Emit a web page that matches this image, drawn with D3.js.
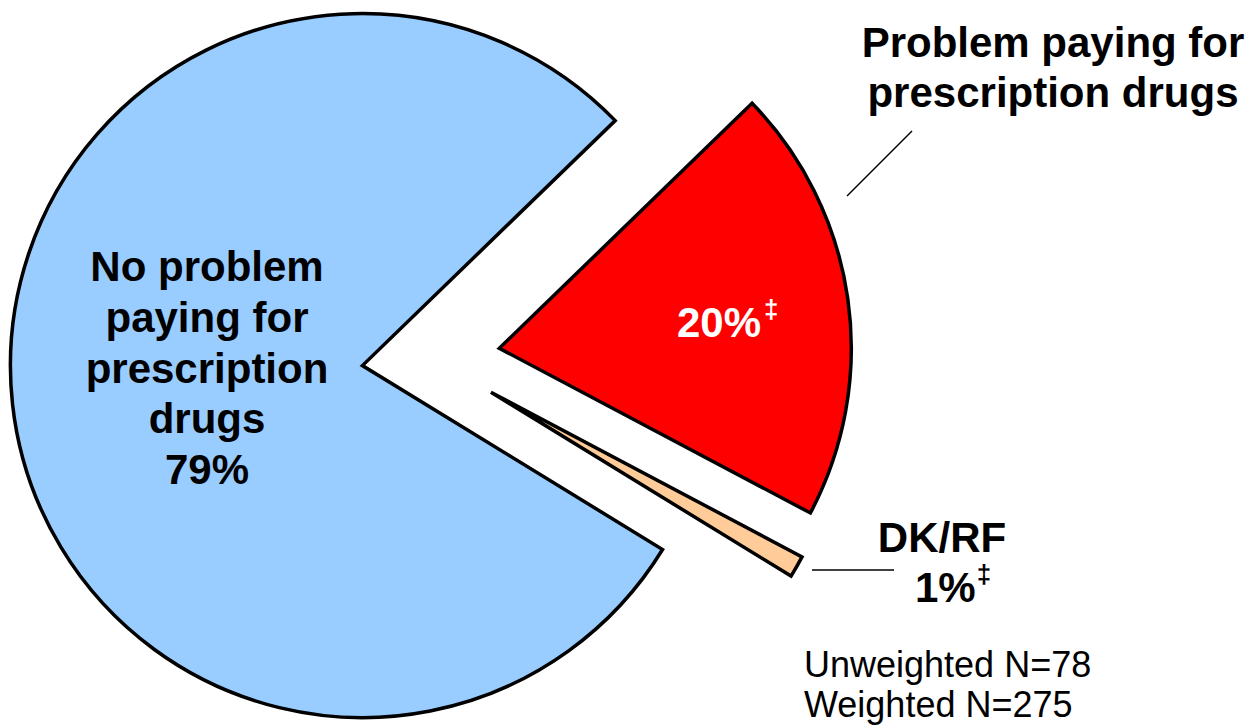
<!DOCTYPE html>
<html>
<head>
<meta charset="utf-8">
<script src="https://cdn.jsdelivr.net/npm/d3@7"></script>
<style>
  html, body { margin: 0; padding: 0; background: #fff; }
  svg { display: block; }
  text { font-family: "Liberation Sans", Arial, sans-serif; }
</style>
</head>
<body>
<svg id="chart" width="1253" height="726"></svg>
<script>
// ---- data ----
const categories = ["Problem paying for prescription drugs", "DK/RF", "No problem paying for prescription drugs"];
const values = [20, 1, 79];
const percentLabels = ["20%", "1%", "79%"];
const sampleNotes = ["Unweighted N=78", "Weighted N=275"];

// ---- styles ----
const sliceColors = ["#FF0000", "#FFCC99", "#99CCFF"];

const width = 1253, height = 726;
const cx = 431, cy = 358, radius = 352, explode = 69;
const startDeg = 45.9;

const svg = d3.select("#chart");

const pie = d3.pie()
  .sort(null)
  .value(d => d)
  .startAngle(startDeg * Math.PI / 180)
  .endAngle(startDeg * Math.PI / 180 + 2 * Math.PI);

const arcs = pie(values);
const arc = d3.arc().innerRadius(0).outerRadius(radius);

const g = svg.append("g").attr("transform", `translate(${cx},${cy})`);

g.selectAll("path.slice")
  .data(arcs)
  .join("path")
  .attr("class", "slice")
  .attr("d", arc)
  .attr("fill", (d, i) => sliceColors[i])
  .attr("stroke", "#000")
  .attr("stroke-width", 3.5)
  .attr("stroke-linejoin", "miter")
  .attr("transform", d => {
    const mid = (d.startAngle + d.endAngle) / 2;
    return `translate(${explode * Math.sin(mid)},${-explode * Math.cos(mid)})`;
  });

// ---- labels ----
const bold = "bold";

// No problem label (inside blue slice)
const blueLines = ["No problem", "paying for", "prescription", "drugs", percentLabels[2]];
svg.append("text")
  .attr("x", 207).attr("y", 281)
  .attr("text-anchor", "middle")
  .attr("font-size", 42).attr("font-weight", bold).attr("fill", "#000")
  .selectAll("tspan")
  .data(blueLines)
  .join("tspan")
  .attr("x", 207)
  .attr("dy", (d, i) => i === 0 ? 0 : 50.8)
  .text(d => d);

// 20% label (inside red slice)
const t20 = svg.append("text")
  .attr("x", 677).attr("y", 337)
  .attr("font-size", 42).attr("font-weight", bold).attr("fill", "#fff");
t20.append("tspan").text(percentLabels[0]);
t20.append("tspan").attr("font-size", 26).attr("dx", 3).attr("dy", -19).text("\u2021");

// Problem paying label (outside)
svg.append("text")
  .attr("x", 1053).attr("y", 57)
  .attr("text-anchor", "middle")
  .attr("font-size", 42).attr("font-weight", bold).attr("fill", "#000")
  .selectAll("tspan")
  .data(["Problem paying for", "prescription drugs"])
  .join("tspan")
  .attr("x", 1053)
  .attr("dy", (d, i) => i === 0 ? 0 : 50)
  .text(d => d);

svg.append("line")
  .attr("x1", 847).attr("y1", 196).attr("x2", 912).attr("y2", 131)
  .attr("stroke", "#000").attr("stroke-width", 1.5);

// DK/RF label
svg.append("text")
  .attr("x", 942).attr("y", 552)
  .attr("text-anchor", "middle")
  .attr("font-size", 42).attr("font-weight", bold).attr("fill", "#000")
  .text(categories[1]);
const t1 = svg.append("text")
  .attr("x", 915).attr("y", 602)
  .attr("font-size", 42).attr("font-weight", bold).attr("fill", "#000");
t1.append("tspan").text(percentLabels[1]);
t1.append("tspan").attr("font-size", 26).attr("dx", 1).attr("dy", -19).text("\u2021");

svg.append("line")
  .attr("x1", 812).attr("y1", 570).attr("x2", 894).attr("y2", 570)
  .attr("stroke", "#000").attr("stroke-width", 1.5);

// Sample notes
svg.append("text")
  .attr("x", 804).attr("y", 677)
  .attr("font-size", 36).attr("fill", "#000")
  .selectAll("tspan")
  .data(sampleNotes)
  .join("tspan")
  .attr("x", 804)
  .attr("dy", (d, i) => i === 0 ? 0 : 40)
  .text(d => d);
</script>
</body>
</html>
